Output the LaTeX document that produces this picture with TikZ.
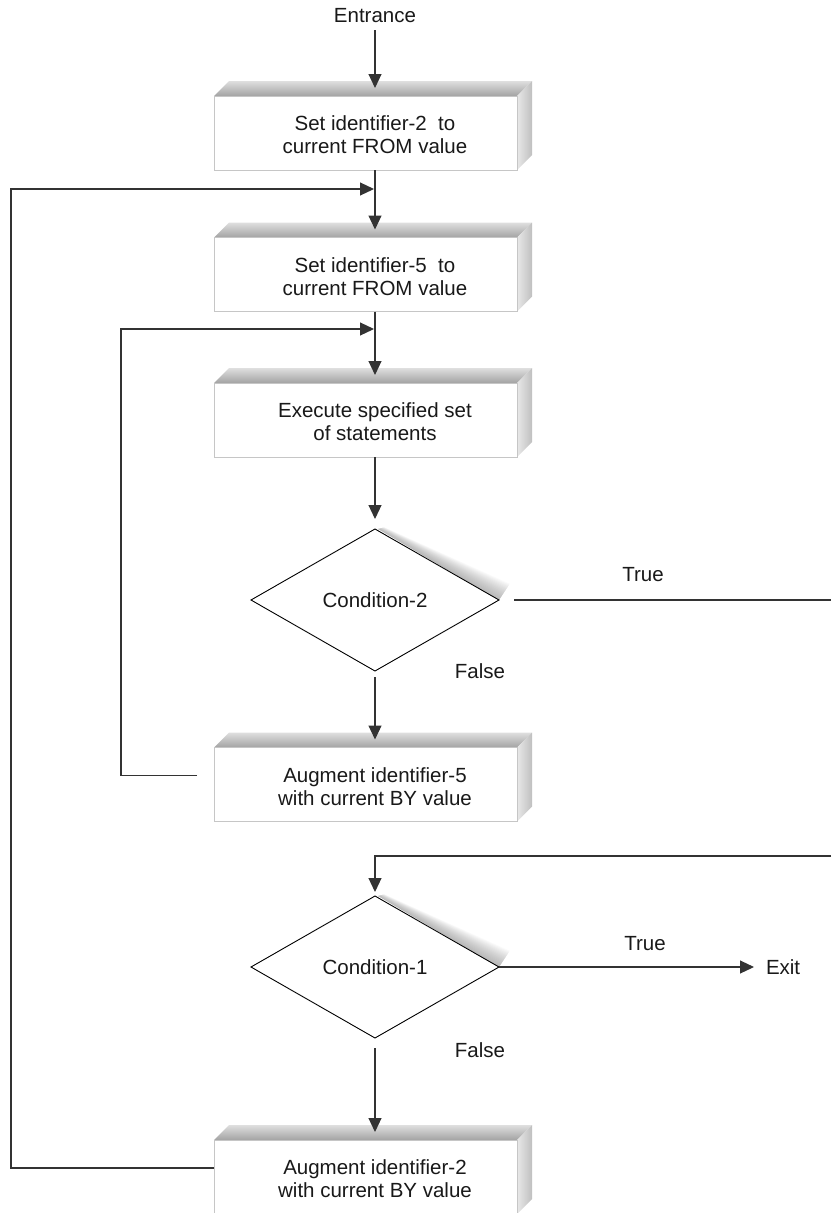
\documentclass[tikz,border=0pt]{standalone}
\usepackage{fontspec}
\setmainfont{Liberation Sans}
\usetikzlibrary{arrows.meta,shapes.geometric,calc,backgrounds}
\tikzset{
  txt/.style={font=\fontsize{20.5}{23}\selectfont, text=black!90, align=center, inner sep=0pt, outer sep=0pt},
  conn/.style={draw=black!80, line width=1.1pt},
  arr/.style={conn, -{Triangle[length=14pt,width=13pt]}},
  dia/.style={diamond, draw=black, line width=0.9pt, fill=white, minimum width=248pt, minimum height=142pt, inner sep=0pt, outer sep=0pt, aspect=1.75, font=\fontsize{20.5}{23}\selectfont, text=black!90},
  frontface/.style={draw=gray!45, line width=0.8pt, fill=white},
  topface/.style={top color=gray!25, bottom color=gray!72},
  sideface/.style={left color=gray!18, right color=gray!50},
  shadowpiece/.style={fill=gray, opacity=0.045},
}
\newcommand{\tdbox}[3]{%
  \coordinate (#1c) at (375,#2);
  \shade[topface] ($(#1c)+(-161,-37)$) -- ($(#1c)+(-146,-52)$) -- ($(#1c)+(157,-52)$) -- ($(#1c)+(142,-37)$) -- cycle;
  \shade[sideface] ($(#1c)+(142,-37)$) -- ($(#1c)+(157,-52)$) -- ($(#1c)+(157,22)$) -- ($(#1c)+(142,37)$) -- cycle;
  \draw[frontface] ($(#1c)+(-161,-37)$) rectangle ($(#1c)+(142,37)$);
  \node[txt] (#1) at ($(#1c)+(0,2)$) {#3};
  \coordinate (#1in) at ($(#1c)+(0,-45)$);
  \coordinate (#1out) at ($(#1c)+(0,37)$);
  \coordinate (#1w) at ($(#1c)+(-161,-9)$);
}
\newcommand{\diashadow}[1]{%
  \begin{scope}[on background layer]
    \foreach \i in {1,...,18} {
      \path[shadowpiece] ($(#1.north)+(3,0)$) -- (#1.east) -- ($(#1.east)+(\i*0.6,-\i*0.9)$) -- ($(#1.north)+(3+\i*0.35,-\i*0.1)$) -- cycle;
    }
  \end{scope}
}
\begin{document}
\begin{tikzpicture}[x=1pt,y=-1pt]
  \useasboundingbox (0,0) rectangle (831,1213);

  % Entrance
  \node[txt] (ent) at (375,16) {Entrance};

  % boxes
  \tdbox{b1}{133}{Set identifier-2\ \ to\\current FROM value}
  \tdbox{b2}{274.5}{Set identifier-5\ \ to\\current FROM value}
  \tdbox{b3}{420}{Execute specified set\\of statements}
  \tdbox{b5}{784.5}{Augment identifier-5\\with current BY value}
  \tdbox{b6}{1177}{Augment identifier-2\\with current BY value}

  % diamonds
  \node[dia] (d2) at (375,600) {Condition-2};
  \diashadow{d2}
  \node[dia] (d1) at (375,967) {Condition-1};
  \diashadow{d1}

  % helper coordinates
  \coordinate (L1) at (11,189);
  \coordinate (j1) at (374,189);
  \coordinate (L2) at (121,329);
  \coordinate (j2) at (374,329);
  \coordinate (t2) at (831,600);
  \coordinate (r1) at (831,856);

  % labels
  \node[txt] (true2) at (643,575) {True};
  \node[txt] (false2) at (480,671) {False};
  \node[txt] (true1) at (645,944) {True};
  \node[txt] (false1) at (480,1050) {False};
  \node[txt, anchor=west] (exit) at (766,967) {Exit};

  % connectors
  \draw[arr] ($(ent.south)+(0,7)$) -- (b1in);
  \draw[arr] (b1out) -- (b2in);
  \draw[arr] (b2out) -- (b3in);
  \draw[arr] (b3out) -- ($(d2.north)+(0,-10)$);
  \draw[arr] ($(d2.south)+(0,6)$) -- (b5in);
  \draw[conn] ($(d2.east)+(15,0)$) -- (t2);
  \draw[arr] (r1) -| ($(d1.north)+(0,-4)$);
  \draw[arr, shorten >=12pt] (d1.east) -- (d1.east -| exit.west);
  \draw[arr] ($(d1.south)+(0,10)$) -- (b6in);

  % loops
  \draw[arr] (b6w) -| (L1) -- (j1);
  \draw[arr] ($(b5w)+(-17,0)$) -| (L2) -- (j2);
\end{tikzpicture}
\end{document}
